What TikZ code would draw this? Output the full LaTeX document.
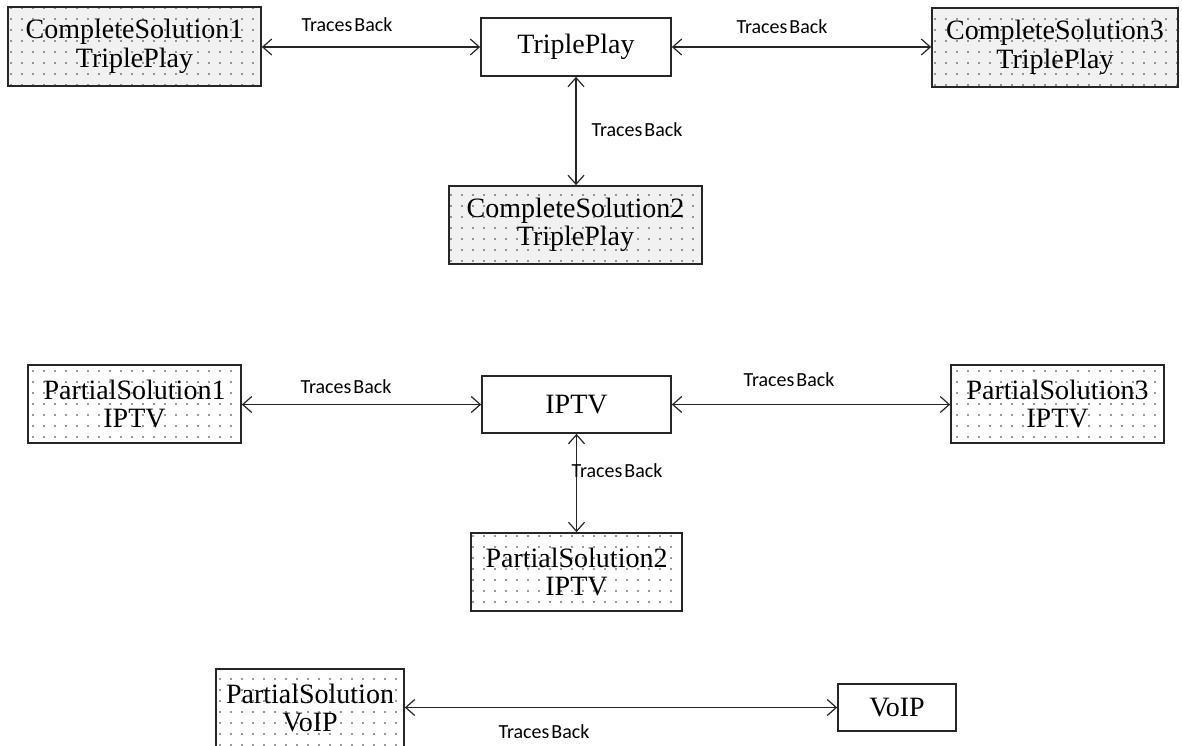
\documentclass[tikz,border=0pt]{standalone}
\usepackage{fontspec}
\setmainfont{Liberation Serif}
\newfontfamily\lblfont{Carlito}
\usetikzlibrary{arrows.meta,patterns.meta}
\definecolor{cfill}{HTML}{F1F1F1}
\definecolor{dotc}{HTML}{333333}
\tikzset{
  box/.style={draw=black!85, line width=1.7pt, rectangle, inner sep=0pt, align=center,
    font=\fontsize{28}{28.5}\selectfont},
  plainbox/.style={box, fill=white},
  dotbox/.style={box, preaction={fill=#1}, pattern={Dots[distance=11pt, radius=0.9pt]}, pattern color=dotc},
  conn/.style={line width=1.2pt, draw=black!85, {Straight Barb[length=9pt,width=16pt,line width=1.2pt]}-{Straight Barb[length=9pt,width=16pt,line width=1.2pt]}},
  lbl/.style={font=\lblfont\fontsize{20}{21}\selectfont, inner sep=0pt}
}
\newcommand{\tbtext}{Traces\kern2pt Back}
\begin{document}
\begin{tikzpicture}[x=1pt,y=-1pt]
\useasboundingbox (0,0) rectangle (1182,745);
% top group
\node[dotbox=cfill, minimum width=253pt, minimum height=79pt] (cs1) at (134.5,46.5) {CompleteSolution1\\TriplePlay};
\node[plainbox, minimum width=190pt, minimum height=58pt] (tp) at (576,47) {TriplePlay};
\node[dotbox=cfill, minimum width=246pt, minimum height=79pt] (cs3) at (1055,47.5) {CompleteSolution3\\TriplePlay};
\node[dotbox=cfill, minimum width=253pt, minimum height=78pt] (cs2) at (575.5,225) {CompleteSolution2\\TriplePlay};
% middle group
\node[dotbox=white, minimum width=213pt, minimum height=78pt] (ps1) at (134.5,404) {PartialSolution1\\IPTV};
\node[plainbox, minimum width=189pt, minimum height=57pt] (iptv) at (576.5,404.5) {IPTV};
\node[dotbox=white, minimum width=213pt, minimum height=78pt] (ps3) at (1057.5,404) {PartialSolution3\\IPTV};
\node[dotbox=white, minimum width=211pt, minimum height=78pt] (ps2) at (576.5,572) {PartialSolution2\\IPTV};
% bottom group
\node[dotbox=white, minimum width=188pt, minimum height=78pt] (psv) at (310,708) {PartialSolution\\VoIP};
\node[plainbox, minimum width=118pt, minimum height=47pt] (voip) at (897,707.5) {VoIP};
% connectors
\draw[conn] (cs1.east |- tp.west) -- (tp.west);
\draw[conn] (tp.east) -- (tp.east -| cs3.west);
\draw[conn] (tp.south) -- (tp.south |- cs2.north);
\draw[conn] (ps1.east |- iptv.west) -- (iptv.west);
\draw[conn] (iptv.east) -- (iptv.east -| ps3.west);
\draw[conn] (iptv.south) -- (iptv.south |- ps2.north);
\draw[conn] (psv.east |- voip.west) -- (voip.west);
% labels
\node[lbl] (l1) at (347,25) {\tbtext};
\node[lbl] (l2) at (782,27) {\tbtext};
\node[lbl] (l3) at (637,130) {\tbtext};
\node[lbl] (l4) at (346,387) {\tbtext};
\node[lbl] (l5) at (789,380) {\tbtext};
\node[lbl] (l6) at (617,471) {\tbtext};
\node[lbl] (l7) at (544,732) {\tbtext};
\end{tikzpicture}
\end{document}
